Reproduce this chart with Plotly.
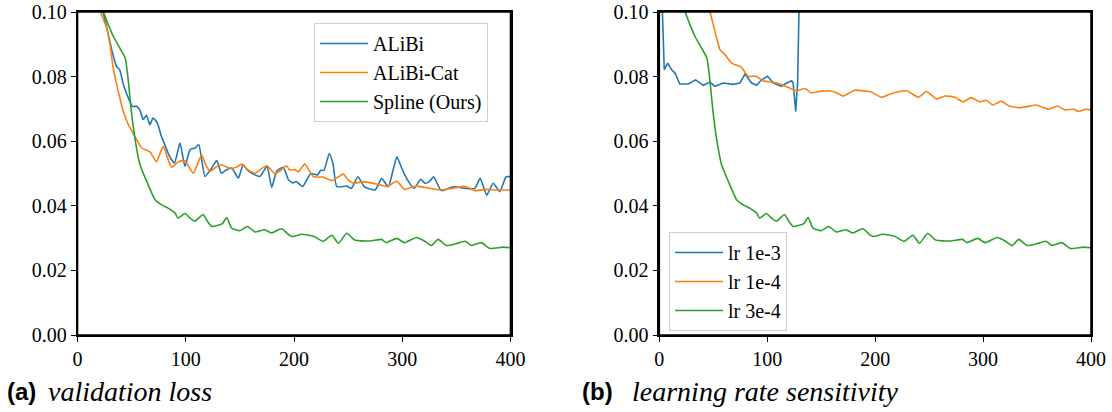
import plotly.graph_objects as go

# ---------------- data ----------------
spline_x = [18, 24, 28.5, 33, 39, 44, 47, 49.4, 52.5, 57.7, 63.9, 71.6, 77.8, 84, 90, 93, 99.3, 104, 108.5,
            116, 120, 124, 130, 134, 137.8, 142.4, 150, 157, 164, 173, 179, 188.6, 196, 199, 207, 218, 227,
            235, 241, 248.7, 256, 270, 281, 285, 295, 302, 313, 320, 327, 333, 341, 350, 358, 364, 373, 381,
            393, 400]
spline_y = [0.106, 0.100, 0.096, 0.0925, 0.0889, 0.0858, 0.0785, 0.0703, 0.062, 0.0527, 0.0476, 0.0419,
            0.0403, 0.0392, 0.0378, 0.0362, 0.0376, 0.0362, 0.0352, 0.0373, 0.0352, 0.0336, 0.034, 0.0345,
            0.0364, 0.0331, 0.0323, 0.0336, 0.0319, 0.0326, 0.0316, 0.0329, 0.0308, 0.0305, 0.0312, 0.0306,
            0.029, 0.0309, 0.0284, 0.0315, 0.0294, 0.0291, 0.0296, 0.0286, 0.0299, 0.0286, 0.0302, 0.0292,
            0.0277, 0.0296, 0.0277, 0.0283, 0.029, 0.0277, 0.0286, 0.0268, 0.0272, 0.027]

cat_x = [18, 21.7, 27, 30, 33, 37.7, 42.3, 47, 53, 59.3, 67, 73, 76, 79.3, 83, 87, 93, 99, 103, 107, 111,
         114.7, 118, 122.4, 128, 133, 138, 142, 147, 151.7, 158, 164, 170, 175, 182, 188, 193, 196, 201,
         203.7, 210, 214, 218, 227, 235, 245.5, 250, 254.7, 265, 275, 285.7, 295, 302, 313, 325.7, 336,
         347, 358, 367, 378, 387, 398, 400]
cat_y = [0.106, 0.0997, 0.095, 0.0899, 0.0827, 0.0754, 0.0693, 0.0651, 0.0615, 0.0579, 0.0567, 0.0536,
         0.056, 0.0584, 0.055, 0.0519, 0.0536, 0.054, 0.052, 0.0501, 0.053, 0.0558, 0.053, 0.0507, 0.052,
         0.0527, 0.052, 0.0515, 0.052, 0.0529, 0.051, 0.0501, 0.0515, 0.0524, 0.05, 0.051, 0.0524, 0.0511,
         0.0512, 0.0505, 0.0529, 0.051, 0.049, 0.0489, 0.0478, 0.0498, 0.048, 0.047, 0.0475, 0.0468, 0.046,
         0.0476, 0.0451, 0.0461, 0.0454, 0.0449, 0.0454, 0.046, 0.0447, 0.0451, 0.0449, 0.0449, 0.0448]

alibi_x = [20, 23.9, 28.5, 32, 36, 39, 42.4, 47, 50.6, 54.5, 57.6, 60.6, 63.7, 66.8, 69.8, 73.8, 77.5, 80.6,
           85, 89.6, 94.7, 99.3, 104, 108.6, 112, 117.8, 124, 128.6, 133, 137, 142.4, 148.6, 153, 157, 161,
           168.6, 175, 179.4, 184, 190, 195, 199, 202, 208, 215.5, 221.6, 224.7, 227.7, 232.6, 236, 239.6,
           248.7, 253, 259, 265, 275, 281, 287, 291.5, 295, 299, 304, 311, 317, 321, 325, 329, 336, 347,
           358, 367, 372, 378, 384, 390, 396, 400]
alibi_y = [0.106, 0.0997, 0.093, 0.0878, 0.0832, 0.0821, 0.0775, 0.0734, 0.0708, 0.0708, 0.0697, 0.0667,
           0.068, 0.0651, 0.0672, 0.0656, 0.0615, 0.059, 0.0553, 0.0533, 0.0594, 0.0522, 0.0574, 0.0579,
           0.059, 0.0491, 0.0517, 0.054, 0.0501, 0.051, 0.0517, 0.0486, 0.0527, 0.051, 0.0501, 0.0491, 0.0522,
           0.0457, 0.0507, 0.0519, 0.048, 0.0471, 0.0475, 0.046, 0.05, 0.0495, 0.051, 0.051, 0.0562, 0.053,
           0.0459, 0.0461, 0.0454, 0.049, 0.0459, 0.0449, 0.0485, 0.0459, 0.051, 0.0552, 0.0521, 0.0485,
           0.0454, 0.0482, 0.047, 0.0475, 0.049, 0.0447, 0.0459, 0.0454, 0.0454, 0.0485, 0.0433, 0.047,
           0.0444, 0.049, 0.049]

lr1e3_x = [0, 2.8, 4.6, 7.7, 11.4, 14.5, 19, 26.7, 33.7, 40.8, 47, 51.6, 59.3, 68.5, 74.7, 79.4, 85.6, 90.2,
           94.8, 100.4, 105.6, 113.3, 118, 122.6, 124, 126.4, 128.2, 129.4, 130.5]
lr1e3_y = [0.13, 0.100, 0.0821, 0.0842, 0.0821, 0.0811, 0.0777, 0.0777, 0.079, 0.0773, 0.0783, 0.077,
           0.078, 0.0776, 0.078, 0.0808, 0.078, 0.0773, 0.079, 0.0801, 0.078, 0.077, 0.078, 0.0787, 0.078,
           0.0692, 0.0784, 0.100, 0.13]

lr1e4_x = [44, 47, 51.6, 56.3, 60.9, 67, 76, 82.3, 90, 96, 104, 111.6, 119, 127, 134.6, 140.8, 150, 158, 164,
           170.5, 181, 191.5, 196, 206, 214, 229, 240, 247.6, 257, 264.6, 274, 281.5, 289, 297, 303, 309,
           317, 324, 333.6, 341, 349, 361, 368.6, 376, 384, 388, 395, 400]
lr1e4_y = [0.104, 0.100, 0.094, 0.0883, 0.0868, 0.0842, 0.0829, 0.0801, 0.0801, 0.0787, 0.0783, 0.0777,
           0.0767, 0.0756, 0.0763, 0.075, 0.0755, 0.0756, 0.075, 0.074, 0.0758, 0.0755, 0.0753, 0.0736,
           0.0746, 0.0756, 0.0736, 0.0754, 0.0731, 0.074, 0.0736, 0.0722, 0.0735, 0.0722, 0.0727, 0.0712,
           0.0724, 0.0709, 0.0704, 0.0707, 0.0712, 0.0699, 0.0709, 0.0697, 0.0699, 0.0692, 0.0699, 0.0697]

# lr 3e-4 run is the same curve as Spline (Ours)
lr3e4_x = spline_x
lr3e4_y = spline_y

x_ticks = [0, 100, 200, 300, 400]
y_ticks = [0.00, 0.02, 0.04, 0.06, 0.08, 0.10]

BLUE, ORANGE, GREEN = "#1f77b4", "#ff7f0e", "#2ca02c"
SERIF = "Liberation Serif"

W, H = 1112, 412


def fx(px):
    return px / W


def fy(py):
    return 1 - py / H


fig = go.Figure()
lw = 1.6
smooth = dict(shape="spline", smoothing=0.5)
fig.add_trace(go.Scatter(x=alibi_x, y=alibi_y, mode="lines", name="ALiBi",
                         line=dict(color=BLUE, width=lw, **smooth), xaxis="x", yaxis="y", legend="legend"))
fig.add_trace(go.Scatter(x=cat_x, y=cat_y, mode="lines", name="ALiBi-Cat",
                         line=dict(color=ORANGE, width=lw, **smooth), xaxis="x", yaxis="y", legend="legend"))
fig.add_trace(go.Scatter(x=spline_x, y=spline_y, mode="lines", name="Spline (Ours)",
                         line=dict(color=GREEN, width=lw, **smooth), xaxis="x", yaxis="y", legend="legend"))

fig.add_trace(go.Scatter(x=lr1e3_x, y=lr1e3_y, mode="lines", name="lr 1e-3",
                         line=dict(color=BLUE, width=lw), xaxis="x2", yaxis="y2", legend="legend2"))
fig.add_trace(go.Scatter(x=lr1e4_x, y=lr1e4_y, mode="lines", name="lr 1e-4",
                         line=dict(color=ORANGE, width=lw, **smooth), xaxis="x2", yaxis="y2", legend="legend2"))
fig.add_trace(go.Scatter(x=lr3e4_x, y=lr3e4_y, mode="lines", name="lr 3e-4",
                         line=dict(color=GREEN, width=lw, **smooth), xaxis="x2", yaxis="y2", legend="legend2"))

axis_common = dict(showline=True, mirror=True, linecolor="black", linewidth=1.6,
                   ticks="outside", ticklen=5, tickwidth=1.4, tickcolor="black",
                   showgrid=False, zeroline=False, automargin=False,
                   tickfont=dict(family=SERIF, size=20, color="black"))

legend_common = dict(xanchor="left", yanchor="top", itemwidth=48,
                     bgcolor="rgba(255,255,255,0.8)", bordercolor="#d0d0d0", borderwidth=1,
                     font=dict(family=SERIF, size=20, color="black"))

ydom = [fy(335), fy(12)]
fig.update_layout(
    template="none",
    width=W, height=H,
    margin=dict(l=0, r=0, t=0, b=0, autoexpand=False),
    paper_bgcolor="white", plot_bgcolor="white",
    xaxis=dict(domain=[fx(77.5), fx(510.5)], range=[0, 400], tickvals=x_ticks, anchor="y", **axis_common),
    yaxis=dict(domain=ydom, range=[0, 0.10], tickvals=y_ticks, tickformat=".2f", anchor="x", **axis_common),
    xaxis2=dict(domain=[fx(659.3), fx(1091)], range=[0, 400], tickvals=x_ticks, anchor="y2", **axis_common),
    yaxis2=dict(domain=ydom, range=[0, 0.10], tickvals=y_ticks, tickformat=".2f", anchor="x2", **axis_common),
    legend=dict(x=fx(314), y=fy(23), **legend_common),
    legend2=dict(x=fx(669), y=fy(232), **legend_common),
    showlegend=True,
)

# full frame (spines) around each panel
for xr, yr in (("x domain", "y domain"), ("x2 domain", "y2 domain")):
    fig.add_shape(type="rect", xref=xr, yref=yr, x0=0, x1=1, y0=0, y1=1,
                  line=dict(color="black", width=1.6), fillcolor="rgba(0,0,0,0)", layer="above")

cap_y = fy(391)
fig.add_annotation(x=fx(5), y=cap_y, xref="paper", yref="paper", xanchor="left", yanchor="middle",
                   text="<b>(a)</b>", showarrow=False,
                   font=dict(family="Liberation Sans", size=24, color="black"))
fig.add_annotation(x=fx(46), y=cap_y, xref="paper", yref="paper", xanchor="left", yanchor="middle",
                   text="<i>validation loss</i>", showarrow=False,
                   font=dict(family=SERIF, size=28, color="black"))
fig.add_annotation(x=fx(580), y=cap_y, xref="paper", yref="paper", xanchor="left", yanchor="middle",
                   text="<b>(b)</b>", showarrow=False,
                   font=dict(family="Liberation Sans", size=24, color="black"))
fig.add_annotation(x=fx(630), y=cap_y, xref="paper", yref="paper", xanchor="left", yanchor="middle",
                   text="<i>learning rate sensitivity</i>", showarrow=False,
                   font=dict(family=SERIF, size=28, color="black"))

# remove the page's default body margin so the figure fills the window exactly
fig.write_html("out.html", config={"displayModeBar": False},
               post_script="document.body.style.margin='0';document.body.style.overflow='hidden';")
